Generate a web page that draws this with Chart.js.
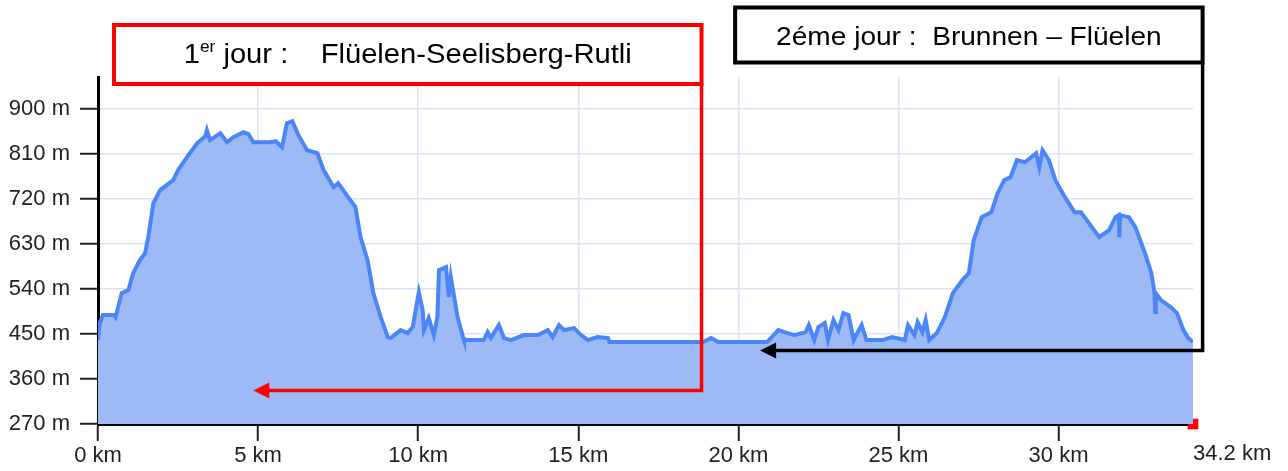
<!DOCTYPE html>
<html>
<head>
<meta charset="utf-8">
<script src="https://cdn.jsdelivr.net/npm/chart.js@4/dist/chart.umd.min.js"></script>
<style>
  html, body { margin: 0; padding: 0; background: #fff; }
  #wrap { width: 1288px; height: 471px; }
</style>
</head>
<body>
<div id="wrap"><canvas id="profil" width="1288" height="471"></canvas></div>
<script>
// Profil altimétrique (distance en km, altitude en m)
const distanceKm = [
  0.00, 0.05, 0.15, 0.50, 0.55, 0.74, 0.95, 1.10, 1.31, 1.47, 1.57, 1.73, 1.94, 2.35, 2.50, 2.78,
  3.10, 3.35, 3.40, 3.50, 3.82, 4.03, 4.23, 4.54, 4.70, 4.85, 5.38, 5.55, 5.75, 5.90, 6.07, 6.26,
  6.53, 6.85, 7.05, 7.36, 7.50, 7.88, 8.04, 8.20, 8.42, 8.60, 8.83, 9.05, 9.14, 9.45, 9.67, 9.83,
  10.02, 10.14, 10.18, 10.33, 10.49, 10.60, 10.65, 10.87, 10.96, 11.02, 11.23, 11.40, 11.43, 12.05,
  12.17, 12.27, 12.52, 12.68, 12.90, 13.30, 13.74, 14.05, 14.20, 14.40, 14.56, 14.87, 15.09, 15.30,
  15.60, 15.93, 15.97, 18.90, 19.15, 19.37, 20.90, 21.25, 21.44, 21.75, 22.10, 22.20, 22.37, 22.50,
  22.70, 22.80, 22.97, 23.13, 23.28, 23.44, 23.60, 23.85, 24.00, 24.50, 24.80, 25.20, 25.30, 25.50,
  25.60, 25.75, 25.85, 25.96, 26.20, 26.45, 26.70, 27.00, 27.20, 27.35, 27.60, 27.90, 28.10, 28.30,
  28.50, 28.70, 28.95, 29.30, 29.40, 29.50, 29.70, 29.90, 30.20, 30.50, 30.70, 30.95, 31.27, 31.58,
  31.78, 31.88, 31.90, 31.92, 32.20, 32.40, 32.70, 32.90, 33.00, 33.02, 33.04, 33.20, 33.50, 33.70,
  33.90, 34.05, 34.20
];
const altitudeM = [
  438, 470, 488, 488, 484, 532, 538, 572, 598, 612, 644, 712, 738, 758, 778, 804,
  832, 846, 858, 838, 852, 834, 844, 854, 850, 834, 834, 836, 824, 872, 876, 848,
  818, 812, 778, 744, 752, 718, 704, 644, 598, 532, 484, 444, 442, 458, 452, 464,
  534, 498, 458, 482, 448, 484, 578, 584, 524, 564, 484, 444, 438, 438,
  454, 442, 468, 442, 438, 448, 448, 458, 444, 468, 458, 462, 448, 438,
  444, 442, 434, 434, 442, 434, 434, 458, 454, 448, 454, 468, 438, 464,
  472, 438, 478, 458, 492, 488, 438, 468, 438, 438, 444, 438, 468, 448,
  474, 454, 478, 438, 452, 484, 532, 558, 572, 638, 684, 694, 732, 758,
  764, 798, 794, 812, 784, 818, 798, 758, 724, 694, 694, 672, 644, 658,
  684, 688, 644, 688, 684, 664, 612, 572, 532, 494, 532, 518, 504, 492,
  458, 442, 434
];
const yTicks = [270, 360, 450, 540, 630, 720, 810, 900];
const xTicks = [0, 5, 10, 15, 20, 25, 30];
const totalKm = 34.2;
const yMax = 964.5;

// Encadrés des deux étapes (x en km, flèche à une altitude donnée)
const jour1 = { boxKm: [0.5, 18.85], boxTop: 25, boxBottom: 84, arrowM: 337, arrowToKm: 4.85, color: '#ff0000' };
const jour2 = { boxKm: [19.9, 34.5], boxTop: 7.5, boxBottom: 62.5, arrowM: 417, arrowToKm: 20.68, color: '#000000' };

const police = '"Liberation Sans", Arial, sans-serif';
const grille = '#dbe3f6';

function fleche(ctx, x0, y0, yA, xTip, color) {
  ctx.strokeStyle = color;
  ctx.fillStyle = color;
  ctx.lineWidth = 3.5;
  ctx.beginPath();
  ctx.moveTo(x0, y0);
  ctx.lineTo(x0, yA);
  ctx.lineTo(xTip + 14, yA);
  ctx.stroke();
  ctx.beginPath();
  ctx.moveTo(xTip, yA);
  ctx.lineTo(xTip + 16, yA - 8);
  ctx.lineTo(xTip + 16, yA + 8);
  ctx.closePath();
  ctx.fill();
}

const annotations = {
  id: 'annotations',
  afterDraw(chart) {
    const ctx = chart.ctx;
    const xs = chart.scales.x, ys = chart.scales.y;

    // libellé de fin d'axe
    ctx.save();
    ctx.font = '22px ' + police;
    ctx.fillStyle = '#222';
    ctx.textAlign = 'left';
    ctx.textBaseline = 'middle';
    ctx.fillText(totalKm + ' km', xs.getPixelForValue(totalKm), 454);
    ctx.restore();

    [jour1, jour2].forEach(j => {
      const l = xs.getPixelForValue(j.boxKm[0]);
      const r = xs.getPixelForValue(j.boxKm[1]);
      ctx.save();
      ctx.fillStyle = '#fff';
      ctx.fillRect(l, j.boxTop, r - l, j.boxBottom - j.boxTop);
      ctx.strokeStyle = j.color;
      ctx.lineWidth = 4;
      ctx.strokeRect(l, j.boxTop, r - l, j.boxBottom - j.boxTop);
      fleche(ctx, r, j.boxBottom, ys.getPixelForValue(j.arrowM), xs.getPixelForValue(j.arrowToKm), j.color);
      ctx.restore();
    });

    // texte jour 1 avec exposant
    ctx.save();
    ctx.fillStyle = '#000';
    ctx.textBaseline = 'alphabetic';
    const l1 = xs.getPixelForValue(jour1.boxKm[0]), r1 = xs.getPixelForValue(jour1.boxKm[1]);
    const sx = 1.08;
    ctx.translate((l1 + r1) / 2, 63);
    ctx.scale(sx, 1);
    ctx.font = '27px ' + police;
    const a = '1', c = ' jour :    Flüelen-Seelisberg-Rutli';
    const wa = ctx.measureText(a).width, wc = ctx.measureText(c).width;
    ctx.font = '16px ' + police;
    const wb = ctx.measureText('er').width;
    let x = -(wa + wb + wc) / 2;
    ctx.font = '27px ' + police;
    ctx.fillText(a, x, 0); x += wa;
    ctx.font = '16px ' + police;
    ctx.fillText('er', x, -11); x += wb;
    ctx.font = '27px ' + police;
    ctx.fillText(c, x, 0);
    ctx.restore();

    // texte jour 2
    ctx.save();
    ctx.fillStyle = '#000';
    const l2 = xs.getPixelForValue(jour2.boxKm[0]), r2 = xs.getPixelForValue(jour2.boxKm[1]);
    ctx.translate((l2 + r2) / 2, 45);
    ctx.scale(sx, 1);
    ctx.font = '26px ' + police;
    ctx.textAlign = 'center';
    ctx.textBaseline = 'alphabetic';
    ctx.fillText('2éme jour :  Brunnen – Flüelen', 0, 0);
    ctx.restore();
  }
};

const points = distanceKm.map((d, i) => ({ x: d, y: altitudeM[i] }));

new Chart(document.getElementById('profil'), {
  type: 'line',
  data: {
    datasets: [
      {
        data: points,
        borderColor: '#4a86f7',
        backgroundColor: '#9dbaf6',
        borderWidth: 4,
        fill: 'start',
        pointRadius: 0,
        tension: 0
      },
      {
        data: [{ x: totalKm, y: yTicks[0] }],
        showLine: false,
        pointStyle: 'rect',
        pointRadius: 7.5,
        backgroundColor: '#ff0000',
        borderWidth: 0,
        clip: false
      }
    ]
  },
  options: {
    responsive: false,
    animation: false,
    devicePixelRatio: 1,
    layout: { padding: { left: 0, right: 95, top: 77, bottom: 0 } },
    plugins: { legend: { display: false }, tooltip: { enabled: false } },
    scales: {
      x: {
        type: 'linear',
        min: 0,
        max: totalKm,
        afterBuildTicks: s => { s.ticks = xTicks.map(v => ({ value: v })); },
        afterFit: s => { s.height = 47; },
        ticks: {
          callback: v => v + ' km',
          font: { family: police, size: 22 },
          color: '#222',
          padding: 2,
          maxRotation: 0,
          autoSkip: false
        },
        grid: { color: grille, lineWidth: 1.5, tickColor: '#222', tickLength: 17, tickWidth: 2 },
        border: { color: '#000', width: 3 }
      },
      y: {
        min: yTicks[0],
        max: yMax,
        afterBuildTicks: s => { s.ticks = yTicks.map(v => ({ value: v })); },
        afterFit: s => { s.width = 98; },
        ticks: {
          callback: v => v + ' m',
          font: { family: police, size: 22 },
          color: '#222',
          padding: 10
        },
        grid: { color: grille, lineWidth: 1.5, tickColor: '#222', tickLength: 18, tickWidth: 2 },
        border: { color: '#000', width: 3 }
      }
    }
  },
  plugins: [annotations]
});
</script>
</body>
</html>
